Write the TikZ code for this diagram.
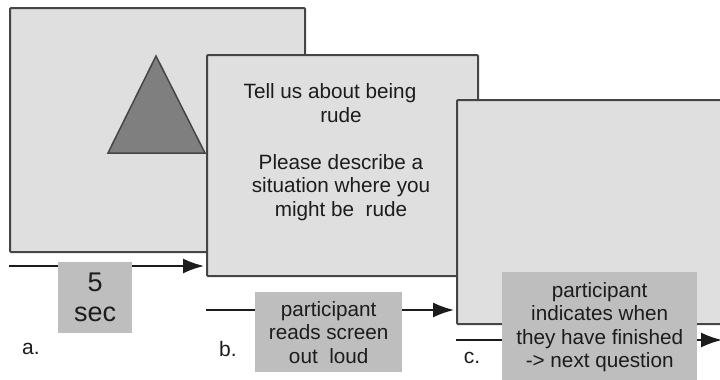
\documentclass[tikz,border=0pt]{standalone}
\usepackage{fontspec}
\setmainfont{Liberation Sans}
\usetikzlibrary{arrows.meta, positioning}
\definecolor{screenfill}{HTML}{DFDFDF}
\definecolor{notefill}{HTML}{BEBEBE}
\definecolor{edgegray}{HTML}{454545}
\definecolor{trifill}{HTML}{7F7F7F}
\definecolor{inkgray}{HTML}{1C1C1C}

\begin{document}
\begin{tikzpicture}[x=1pt, y=-1pt,
    screen/.style={draw=edgegray, line width=2pt, fill=screenfill, rounded corners=1pt,
      anchor=north west, inner sep=0pt},
    note/.style={fill=notefill, anchor=north west, inner sep=0pt, align=center, text=inkgray},
    flow/.style={-{Latex[length=21pt,width=15pt]}, line width=1.8pt, draw=inkgray},
    tag/.style={text=inkgray, font=\fontsize{21}{24}\selectfont},
    every node/.style={font=\fontsize{20.7}{23.5}\selectfont}
  ]
  \useasboundingbox (0,0) rectangle (720,380);

  % screen a: fixation triangle
  \node[screen, minimum width=295pt, minimum height=244pt] (scrA) at (9,7) {};
  \coordinate (triTop) at (156,56);
  \coordinate (triR)   at (205,153);
  \coordinate (triL)   at (108,153);
  \draw[draw=edgegray, line width=1.5pt, fill=trifill] (triTop) -- (triR) -- (triL) -- cycle;

  \coordinate (a0) at (9,266);
  \draw[flow] (a0) -- (a0 -| 204,0);
  \node[note, minimum width=74pt, minimum height=71pt,
        font=\fontsize{27}{30}\selectfont] (waitA) at (58,262) {5\\sec};
  \node[tag] (labA) at (31,349) {a.};

  % screen b: question
  \node[screen, minimum width=271pt, minimum height=221pt] (scrB) at (206,54) {};
  \node[align=center, text=inkgray] (askB) at (341,152)
    {Tell us about being\hspace*{22pt}\\rude\\[23.5pt]Please describe a\\situation where you\\might be~ rude};

  \coordinate (b0) at (scrB.west |- 0,310);
  \draw[flow] (b0) -- (b0 -| 454,0);
  \node[note, minimum width=147pt, minimum height=80pt] (readB) at (255,292)
    {participant\\reads screen\\out~ loud};
  \node[tag] (labB) at (228,349) {b.};

  % screen c: answer
  \node[screen, minimum width=300pt, minimum height=224pt] (scrC) at (456,99) {};
  \coordinate (c0) at (scrC.west |- 0,340);
  \coordinate (c1) at (722,340);
  \draw[flow] (c0) -- (c1);
  \node[note, minimum width=195pt, minimum height=110pt] (doneC) at (502,272)
    {participant\\indicates when\\they have finished\\-> next question};
  \node[tag] (labC) at (472,358) {c.};
\end{tikzpicture}
\end{document}
